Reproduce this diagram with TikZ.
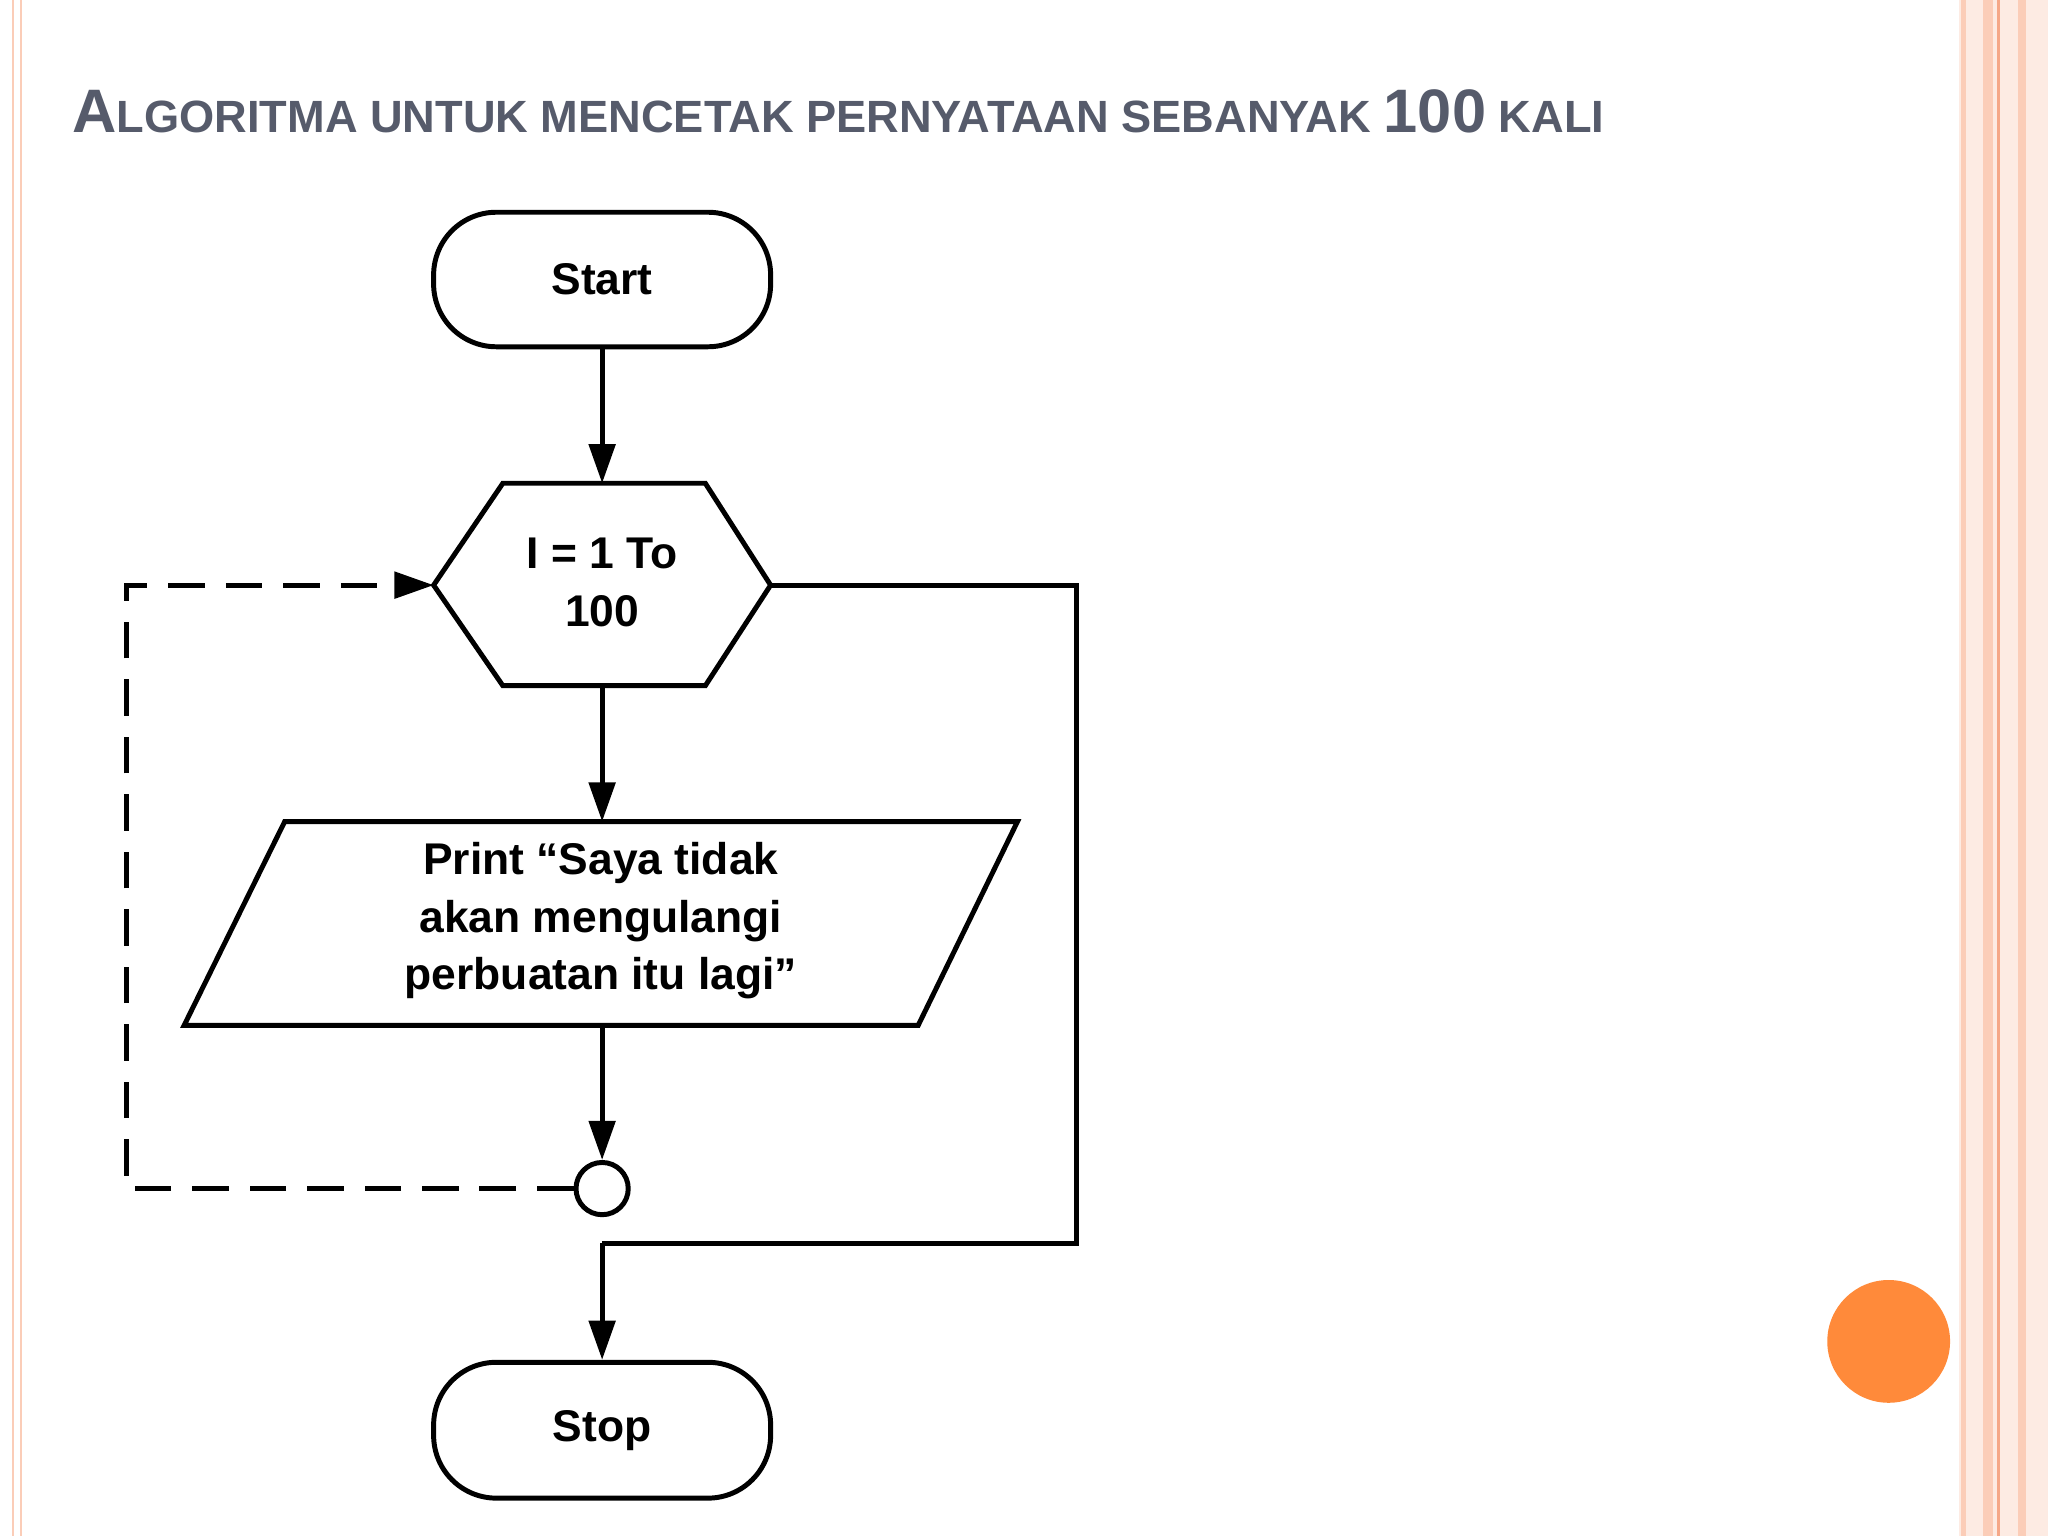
\documentclass[tikz,border=0pt]{standalone}
\usepackage{fontspec}
\setmainfont{Liberation Sans}
\usetikzlibrary{arrows.meta}
\definecolor{titlec}{HTML}{565B6B}
\definecolor{peach}{HTML}{FBCDB8}
\definecolor{peachd}{HTML}{F5A888}
\definecolor{orng}{HTML}{FF8A3A}
\begin{document}
\begin{tikzpicture}[x=0.5pt,y=-0.5pt,
  shp/.style={draw=black,line width=1.9pt,fill=white},
  lbl/.style={font=\fontsize{17}{22}\selectfont\bfseries,align=center},
  conn/.style={line width=1.9pt,-{Triangle[length=15pt,width=10pt]}},
  dconn/.style={line width=1.9pt,dash pattern=on 14pt off 8pt,-{Triangle[length=15pt,width=10pt]}}]
\useasboundingbox (0,0) rectangle (1568,1176);
\fill[white] (0,0) rectangle (1568,1176);
% borders
\draw[peach,line width=1pt] (10,0)--(10,1176);
\draw[peach,line width=1pt] (16,0)--(16,1176);
\fill[peach!40] (1500,0) rectangle (1568,1176);
\draw[peach,line width=2pt] (1503,0)--(1503,1176);
\draw[peach,line width=4pt] (1522,0)--(1522,1176);
\draw[peachd,line width=1pt] (1530,0)--(1530,1176);
\draw[peach,line width=3pt] (1548,0)--(1548,1176);
\fill[orng] (1446,1027) circle (23.5pt);
% title
\node[anchor=west,text=titlec,font=\bfseries,inner sep=0pt] (title) at (55,85)
 {{\fontsize{23.5}{28}\selectfont A}{\fontsize{17.3}{21}\selectfont LGORITMA UNTUK MENCETAK PERNYATAAN SEBANYAK }{\fontsize{23.5}{28}\selectfont 100}{\fontsize{17.3}{21}\selectfont\ KALI}};
% start / stop
\node[shp,lbl,rounded corners=24pt,minimum width=129pt,minimum height=51.5pt] (start) at (461,214) {Start};
\node[shp,lbl,rounded corners=24pt,minimum width=129pt,minimum height=52pt] (stop) at (461,1095) {Stop};
% hexagon
\draw[shp] (385,370)--(540,370)--(590,448)--(540,525)--(385,525)--(332,448)--cycle;
\node[lbl] (loop) at (461,446) {I = 1 To\\100};
\coordinate (hexT) at (461,370);
\coordinate (hexB) at (461,525);
\coordinate (hexL) at (332,448);
\coordinate (hexR) at (590,448);
% parallelogram
\draw[shp] (218,629)--(779,629)--(703,785)--(141,785)--cycle;
\node[lbl] (print) at (460,705) {Print “Saya tidak\\akan mengulangi\\perbuatan itu lagi”};
\coordinate (parT) at (461,629);
\coordinate (parB) at (461,785);
% connector circle
\node[draw,line width=1.9pt,circle,minimum size=20pt,inner sep=0pt] (cc) at (461,910) {};
\coordinate (c1) at (97,910);
\coordinate (c2) at (97,448);
\coordinate (r1) at (824,448);
\coordinate (r2) at (824,952);
\coordinate (r3) at (461,952);
\draw[conn] (start) -- (hexT);
\draw[conn] (hexB) -- (parT);
\draw[conn] (parB) -- (cc);
\draw[dconn] (cc.west) -- (c1) -- (c2) -- (hexL);
\draw[line width=1.9pt] (hexR) -- (r1) -- (r2) -- (r3);
\draw[conn] (r3) -- (stop);
\end{tikzpicture}
\end{document}
